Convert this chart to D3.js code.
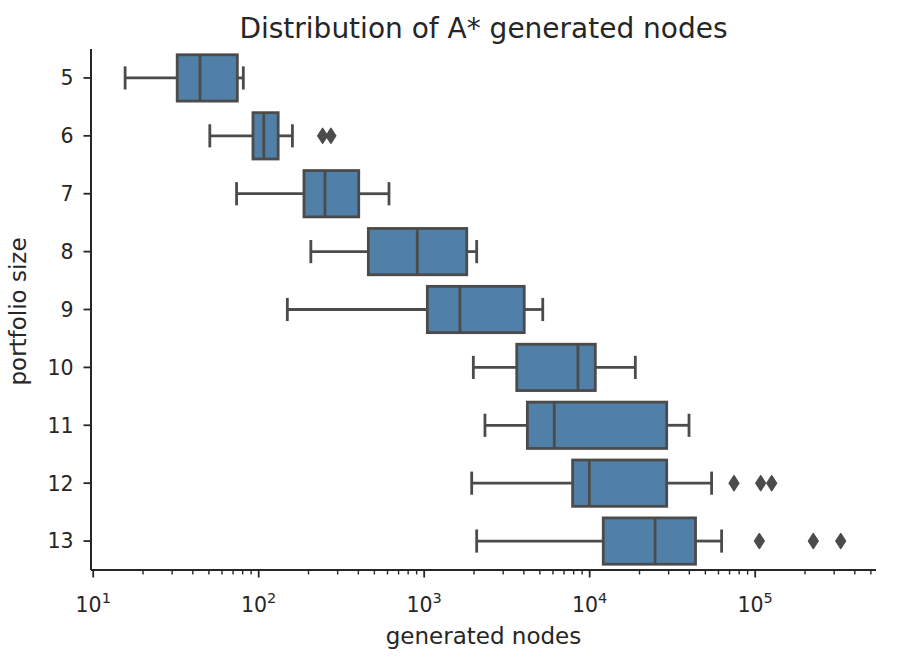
<!DOCTYPE html>
<html>
<head>
<meta charset="utf-8">
<script src="https://cdn.jsdelivr.net/npm/d3@7"></script>
<style>
  html, body { margin: 0; padding: 0; background: #ffffff; }
  svg { display: block; }
  text { font-family: "DejaVu Sans", sans-serif; fill: #262626; }
</style>
</head>
<body>
<svg id="chart" width="897" height="665"></svg>
<script>
// ---- data ----
const categories   = [5, 6, 7, 8, 9, 10, 11, 12, 13];
const whiskerLow   = [15.7, 51, 74, 208, 150, 1995, 2345, 1950, 2090];
const q1           = [32.4, 93, 189, 463, 1052, 3650, 4230, 7940, 12160];
const medians      = [44.5, 108, 253, 914, 1656, 8550, 6150, 10020, 25000];
const q3           = [74.8, 132, 405, 1820, 4050, 10890, 29400, 29400, 43900];
const whiskerHigh  = [81.3, 161, 617, 2090, 5240, 19000, 40100, 54900, 63100];
const outliers     = [[], [245, 275], [], [], [], [], [], [75000, 108700, 126700], [106700, 226000, 331000]];
const xMajorTicks  = [10, 100, 1000, 10000, 100000];
const xTickExps    = ["1", "2", "3", "4", "5"];
const titleText    = "Distribution of A* generated nodes";
const xLabelText   = "generated nodes";
const yLabelText   = "portfolio size";

// ---- layout ----
const mLeft = 91, mRight = 876, mTop = 49, mBottom = 570;
const boxFill = "#5080a7";
const lineGray = "#4b4b4b";
const ink = "#262626";

const svg = d3.select("#chart");

const x = d3.scaleLog()
  .domain([Math.pow(10, 0.9897), Math.pow(10, 5.733)])
  .range([mLeft, mRight]);

const y = d3.scaleBand()
  .domain(categories)
  .range([mTop, mBottom])
  .padding(0);

const bw = y.bandwidth();
const rows = categories.map((c, i) => ({
  c, lo: whiskerLow[i], q1: q1[i], med: medians[i], q3: q3[i], hi: whiskerHigh[i], out: outliers[i]
}));

// ---- boxes ----
const g = svg.append("g");
rows.forEach(r => {
  const cy = y(r.c) + bw / 2;
  const capH = bw * 0.2;
  g.append("line").attr("x1", x(r.lo)).attr("x2", x(r.q1)).attr("y1", cy).attr("y2", cy)
    .attr("stroke", lineGray).attr("stroke-width", 2.8);
  g.append("line").attr("x1", x(r.q3)).attr("x2", x(r.hi)).attr("y1", cy).attr("y2", cy)
    .attr("stroke", lineGray).attr("stroke-width", 2.8);
  [r.lo, r.hi].forEach(v => {
    g.append("line").attr("x1", x(v)).attr("x2", x(v)).attr("y1", cy - capH).attr("y2", cy + capH)
      .attr("stroke", lineGray).attr("stroke-width", 2.8);
  });
  g.append("rect")
    .attr("x", x(r.q1)).attr("width", x(r.q3) - x(r.q1))
    .attr("y", y(r.c) + bw * 0.1).attr("height", bw * 0.8)
    .attr("fill", boxFill).attr("stroke", lineGray).attr("stroke-width", 2.8);
  g.append("line").attr("x1", x(r.med)).attr("x2", x(r.med))
    .attr("y1", y(r.c) + bw * 0.1).attr("y2", y(r.c) + bw * 0.9)
    .attr("stroke", lineGray).attr("stroke-width", 2.8);
  r.out.forEach(v => {
    g.append("path")
      .attr("d", "M0,-8 L5.2,0 L0,8 L-5.2,0 Z")
      .attr("transform", `translate(${x(v)},${cy})`)
      .attr("fill", lineGray).attr("stroke", lineGray).attr("stroke-width", 1);
  });
});

// ---- axes ----
const minorTicks = [];
for (let e = 0; e <= 5; e++) {
  for (let k = 2; k <= 9; k++) {
    const v = k * Math.pow(10, e);
    if (v >= x.domain()[0] && v <= x.domain()[1]) minorTicks.push(v);
  }
}

const xMinor = svg.append("g").attr("transform", `translate(0,${mBottom})`)
  .call(d3.axisBottom(x).tickValues(minorTicks).tickSize(4.5).tickFormat(""));
xMinor.select(".domain").remove();
xMinor.selectAll(".tick line").attr("stroke", ink).attr("stroke-width", 1.4);

const xAxis = svg.append("g").attr("transform", `translate(0,${mBottom})`)
  .call(d3.axisBottom(x).tickValues(xMajorTicks).tickSize(7.5).tickSizeOuter(0).tickFormat(""));
xAxis.select(".domain").attr("stroke", ink).attr("stroke-width", 2).attr("d", `M${mLeft},0H${mRight}`);
xAxis.selectAll(".tick line").attr("stroke", ink).attr("stroke-width", 1.8);
xAxis.selectAll(".tick").each(function(d, i) {
  const t = d3.select(this).append("text")
    .attr("y", 41.5).attr("text-anchor", "middle")
    .style("font-size", "20.5px").attr("fill", ink);
  t.append("tspan").text("10");
  t.append("tspan").text(xTickExps[i]).style("font-size", "14.5px").attr("dy", "-8.5");
});

const yAxis = svg.append("g").attr("transform", `translate(${mLeft},0)`)
  .call(d3.axisLeft(y).tickSize(7.5).tickSizeOuter(0).tickPadding(10));
yAxis.select(".domain").attr("stroke", ink).attr("stroke-width", 2).attr("d", `M0,${mTop}V${mBottom}`);
yAxis.selectAll(".tick line").attr("stroke", ink).attr("stroke-width", 1.8);
yAxis.selectAll(".tick text")
  .style("font-size", "20.5px").style("font-family", "DejaVu Sans").attr("fill", ink)
  .attr("dy", "0.36em");

// ---- labels ----
const cx = (mLeft + mRight) / 2;
svg.append("text").attr("x", cx).attr("y", 38).attr("text-anchor", "middle")
  .style("font-size", "28px").text(titleText);
svg.append("text").attr("x", cx).attr("y", 644).attr("text-anchor", "middle")
  .style("font-size", "23px").text(xLabelText);
svg.append("text").attr("transform", `translate(26,${(mTop + mBottom) / 2 + 2}) rotate(-90)`)
  .attr("text-anchor", "middle").style("font-size", "23px").text(yLabelText);
</script>
</body>
</html>
